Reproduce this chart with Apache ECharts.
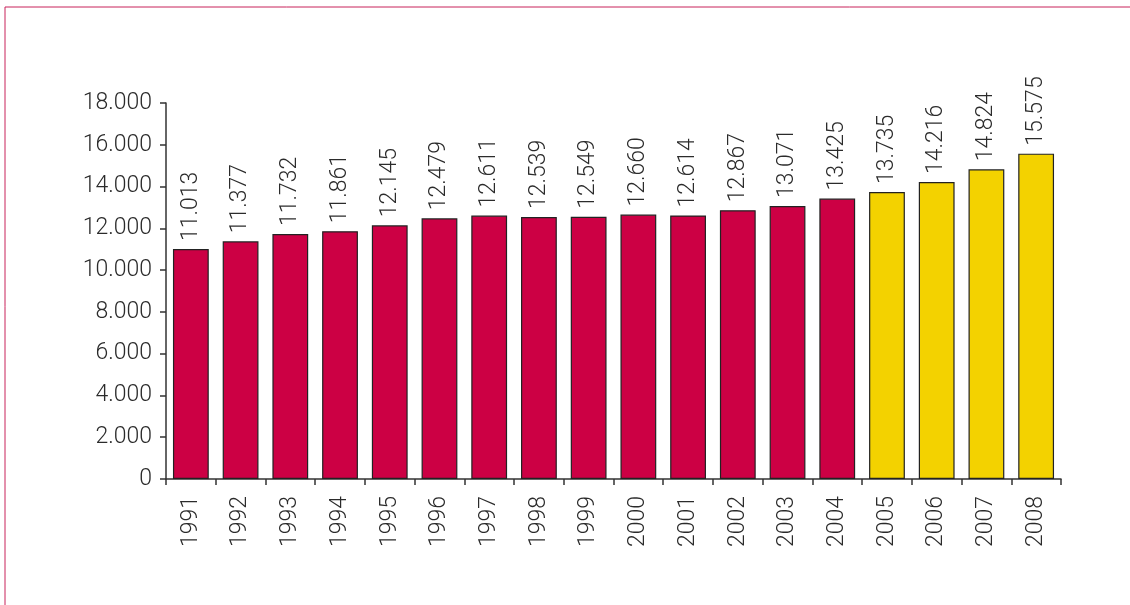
<!DOCTYPE html>
<html>
<head>
<meta charset="utf-8">
<script src="https://cdn.jsdelivr.net/npm/echarts@6/dist/echarts.min.js"></script>
<style>
  html, body { margin: 0; padding: 0; background: #fff; }
  #chart { width: 1130px; height: 605px; }
</style>
</head>
<body>
<div id="chart"></div>
<script>
const years = ['1991', '1992', '1993', '1994', '1995', '1996', '1997', '1998', '1999',
  '2000', '2001', '2002', '2003', '2004', '2005', '2006', '2007', '2008'];
const values = [11013, 11377, 11732, 11861, 12145, 12479, 12611, 12539, 12549,
  12660, 12614, 12867, 13071, 13425, 13735, 14216, 14824, 15575];
// the last four years are drawn in yellow
const forecastFrom = '2005';

const RED = '#CC0044';
const YELLOW = '#F3D200';
const TEXT = '#2b2b2b';
const FONT = 'Roboto, "Liberation Sans", sans-serif';
const FS = 23;
const FW = 300;

function fmt(v) {
  return String(v).replace(/\B(?=(\d{3})+(?!\d))/g, '.');
}

const startIdx = years.indexOf(forecastFrom);
const barData = values.map((v, i) => ({
  value: v,
  itemStyle: { color: i >= startIdx ? YELLOW : RED }
}));

const chart = echarts.init(document.getElementById('chart'));
chart.setOption({
  animation: false,
  backgroundColor: '#fff',
  textStyle: { fontFamily: FONT },
  graphic: [
    {
      type: 'polyline',
      shape: { points: [[5, 610], [5, 7], [1140, 7]] },
      style: { stroke: '#C8235A', lineWidth: 1, fill: null }
    }
  ],
  grid: { left: 166, right: 69, top: 103, bottom: 126 },
  xAxis: {
    type: 'category',
    data: years,
    axisLine: { lineStyle: { color: '#333', width: 1.5 } },
    axisTick: { show: true, length: 6, lineStyle: { color: '#333', width: 1.5 } },
    axisLabel: {
      rotate: 90,
      color: TEXT,
      fontSize: FS,
      fontWeight: FW,
      margin: 17,
      fontFamily: FONT
    }
  },
  yAxis: {
    type: 'value',
    min: 0,
    max: 18000,
    interval: 2000,
    splitLine: { show: false },
    axisLine: { show: true, lineStyle: { color: '#333', width: 1.5 } },
    axisTick: { show: true, length: 6, lineStyle: { color: '#333', width: 1.5 } },
    axisLabel: {
      color: TEXT,
      fontSize: FS,
      fontWeight: FW,
      margin: 14,
      fontFamily: FONT,
      formatter: fmt
    }
  },
  series: [
    {
      type: 'bar',
      data: barData,
      barWidth: '72%',
      itemStyle: { borderColor: '#222', borderWidth: 1.2 },
      label: {
        show: true,
        position: 'top',
        rotate: 90,
        align: 'left',
        verticalAlign: 'middle',
        distance: 8,
        color: TEXT,
        fontSize: FS,
        fontWeight: FW,
        fontFamily: FONT,
        formatter: p => fmt(p.value)
      }
    }
  ]
});
</script>
</body>
</html>
